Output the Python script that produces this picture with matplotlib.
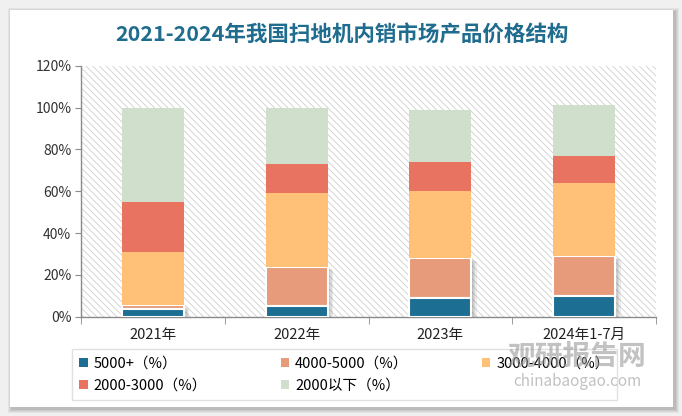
import numpy as np
import matplotlib
matplotlib.use("Agg")
from matplotlib import pyplot as plt
from matplotlib.patches import Rectangle
from matplotlib.ticker import FuncFormatter, FixedLocator
import matplotlib.patheffects as pe

plt.rcParams['font.family'] = ['Noto Sans CJK SC', 'DejaVu Sans']
plt.rcParams['hatch.linewidth'] = 0.6

# data (percent)
years = ['2021年', '2022年', '2023年', '2024年1-7月']
s_5000 = [3.6, 5, 9, 10]
s_4000 = [1.8, 19, 19, 19]
s_3000 = [25.5, 35, 32, 35]
s_2000 = [24, 14, 14, 13]
s_below = [45, 27, 25, 24]
labels = ['5000+（%）', '4000-5000（%）', '3000-4000（%）', '2000-3000（%）', '2000以下（%）']
colors = ['#1C6E92', '#E79B7A', '#FFC177', '#E87361', '#D0DFCC']

W, H = 682, 416
fig = plt.figure(figsize=(W / 100, H / 100), dpi=100)
fig.patch.set_facecolor('#f0f0f0')

# white panel with soft shadow
for i, a in enumerate([0.05, 0.05, 0.06, 0.07]):
    d = 4 - i
    fig.patches.append(Rectangle(((10 - d + 2) / W, (H - 407 - d - 2) / H), (663 + 2 * d) / W, (397 + 2 * d) / H,
                                 transform=fig.transFigure, facecolor='black', alpha=a, lw=0, zorder=-3))
fig.patches.append(Rectangle((10 / W, (H - 407) / H), 663 / W, 397 / H,
                             transform=fig.transFigure, facecolor='white', lw=0, zorder=-2))

ax = fig.add_axes([81 / W, (H - 316.7) / H, (656 - 81) / W, (316.7 - 65.7) / H])
ax.set_facecolor('none')
ax.add_patch(Rectangle((0, 0), 1, 1, transform=ax.transAxes, facecolor='white',
                       edgecolor='#cfcfcf', hatch='\\' * 5, lw=0, zorder=0))

# soft shadow for the lower segments
soft_shadow = [pe.SimplePatchShadow(offset=(o, -o * 0.6), shadow_rgbFace='#666666', alpha=0.12)
               for o in (4, 3, 2, 1)] + [pe.Normal()]

x = np.arange(len(years))
series = [s_5000, s_4000, s_3000, s_2000, s_below]
bottom = np.zeros(len(years))
handles = []
for k, (vals, c, lab) in enumerate(zip(series, colors, labels)):
    if k < 2:
        bars = ax.bar(x, vals, 0.43, bottom=bottom, color=c, edgecolor='white', linewidth=1.5,
                      label=lab, zorder=3 - k * 0.1)
        for b in bars:
            b.set_path_effects(soft_shadow)
    else:
        bars = ax.bar(x, vals, 0.43, bottom=bottom, color=c, linewidth=0, label=lab, zorder=3)
    handles.append(bars)
    bottom += np.array(vals)

ax.set_xlim(-0.5, len(years) - 0.5)
ax.set_ylim(0, 120)
ax.set_yticks(np.arange(0, 121, 20))
ax.yaxis.set_major_formatter(FuncFormatter(lambda v, p: f'{v:.0f}%'))
ax.set_xticks(x)
ax.set_xticklabels(years)
ax.xaxis.set_minor_locator(FixedLocator(np.arange(-0.5, len(years), 1)))
ax.tick_params(axis='x', which='major', length=0, pad=8, labelsize=10.5, labelcolor='#222222')
ax.tick_params(axis='x', which='minor', length=5, color='#8a8a8a', direction='out')
ax.tick_params(axis='y', length=4, color='#8a8a8a', labelsize=10, labelcolor='#333333', pad=3)
for s in ['top', 'right']:
    ax.spines[s].set_visible(False)
for s in ['left', 'bottom']:
    ax.spines[s].set_color('#8a8a8a')
    ax.spines[s].set_linewidth(1.0)

fig.text(342 / W, 1 - 35 / H, '2021-2024年我国扫地机内销市场产品价格结构', ha='center', va='center',
         fontsize=15.5, fontweight='bold', color='#1F6C8E')

order = [0, 3, 1, 4, 2]
leg = fig.legend([handles[i] for i in order], [labels[i] for i in order], ncol=3,
                 loc='upper left', bbox_to_anchor=(72 / W, 1 - 398 / H, (617 - 72) / W, 49 / H),
                 mode='expand', fontsize=10.5, frameon=True, fancybox=False, edgecolor='#d9d9d9',
                 handlelength=0.6, handleheight=0.6, handletextpad=0.4, borderpad=0.5,
                 labelspacing=0.55, borderaxespad=0)
leg.get_frame().set_linewidth(1.0)
for h in leg.legend_handles:
    h.set_path_effects([])
    h.set_edgecolor('none')

# watermark
fig.text(577 / W, 1 - 357 / H, '观研报告网', ha='center', va='center', fontsize=20,
         fontweight='bold', color='#9a9a9a', alpha=0.6, zorder=10)
fig.text(577 / W, 1 - 381 / H, 'chinabaogao.com', ha='center', va='center', fontsize=11,
         color='#9a9a9a', alpha=0.6, zorder=10)

fig.savefig('out.png', dpi=100, facecolor=fig.get_facecolor())
